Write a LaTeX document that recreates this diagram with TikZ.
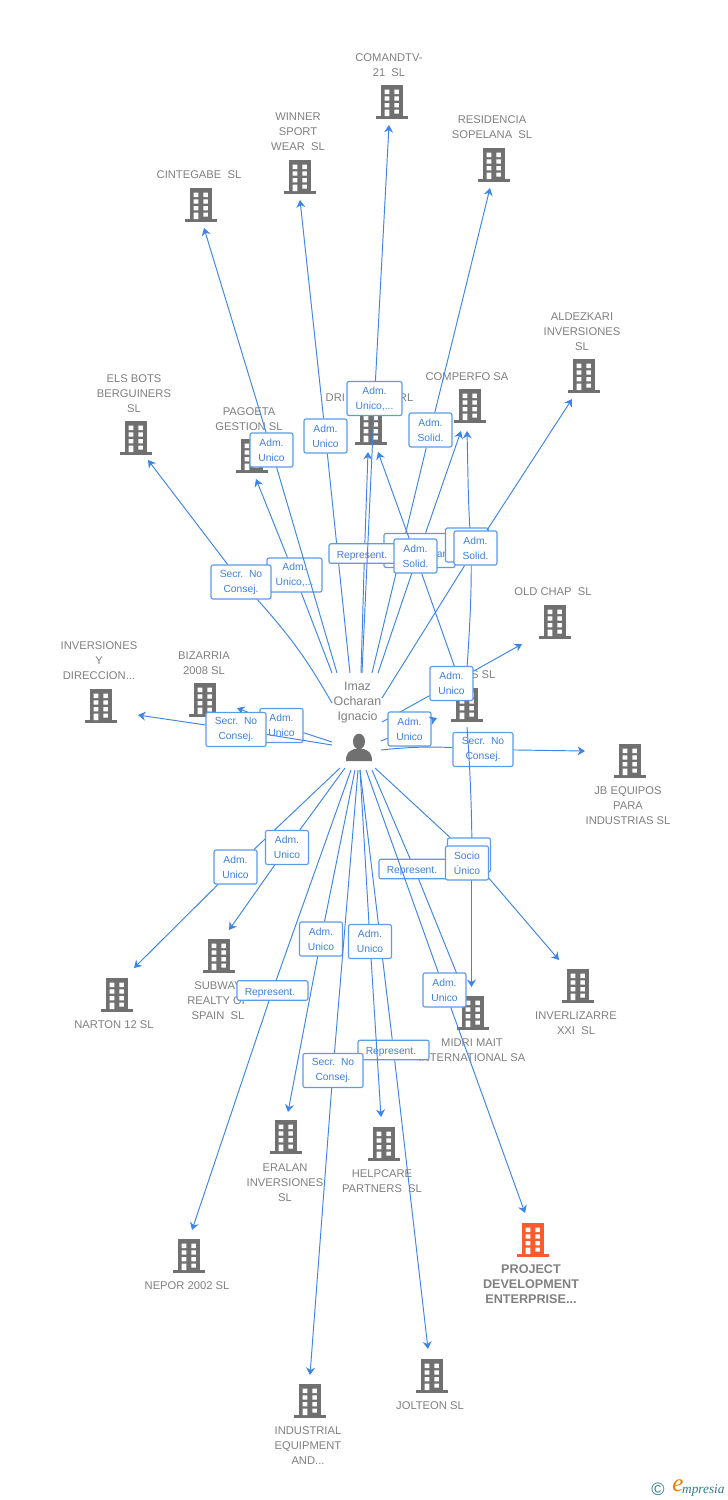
\documentclass[tikz,border=0pt]{standalone}
\usepackage{fontspec}
\setmainfont{Liberation Sans}
\newfontfamily\logoserif{Liberation Serif}
\usetikzlibrary{arrows.meta}
\definecolor{lnkc}{HTML}{3D85E6}
\definecolor{boxc}{HTML}{5C9BEA}
\definecolor{boxt}{HTML}{3F80DE}
\definecolor{txtc}{HTML}{808080}
\definecolor{icoc}{HTML}{707070}
\definecolor{hotc}{HTML}{FF5A2D}
\definecolor{tealc}{HTML}{2E7D8C}
\definecolor{orgc}{HTML}{F57C00}
\tikzset{
 lnk/.style={draw=lnkc,line width=0.95pt},
 tipped/.style={-{Stealth[length=7.5pt,width=9pt,inset=2.5pt]}},
 lab/.style={draw=boxc,line width=1.15pt,fill=white,rounded corners=2pt,inner sep=0pt,align=center,text=boxt,font=\fontsize{10.3}{15}\selectfont,minimum width=43pt,minimum height=34pt},
 labw/.style={lab,minimum width=55pt},
 labs/.style={lab,minimum width=60pt},
 labr/.style={lab,minimum width=71pt,minimum height=19.5pt,text height=9pt,text depth=0pt,execute at end node={\hspace{5pt}}},
 cname/.style={inner sep=0pt,align=center,text=txtc,font=\fontsize{11.2}{15}\selectfont,yshift=-0.8pt},
 bldbox/.style={minimum width=31.5pt,minimum height=34pt,inner sep=0pt},
}
% name, x, y, colour
\newcommand{\company}[4]{%
 \node[bldbox] (#1) at (#2,#3) {};
 \begin{scope}[shift={(#2-15.75,#3-17)}]
  \fill[#4] (4.7,0) rectangle (26.7,32);
  \fill[#4] (0,31) rectangle (31.5,34);
  \fill[white] (8.3,4.7) rectangle (13,9) (18,4.7) rectangle (22.7,9)
    (8.3,11.3) rectangle (13,15.7) (18,11.3) rectangle (22.7,15.7)
    (8.3,18) rectangle (13,22.3) (18,18) rectangle (22.7,22.3)
    (8.3,24.5) rectangle (13,31) (18,24.5) rectangle (22.7,28.5);
 \end{scope}
}
\newcommand{\Adm}{Adm.\hspace{4.5pt}\\}
% [first-segment options], id, start, box style, box pos, text, tip
\newcommand{\edgevia}[7][]{%
 \coordinate (s#2) at (#3);
 \coordinate (t#2) at (#7);
 \node[#4] (lb#2) at (#5) {#6};
 \draw[lnk] (s#2) to[#1] (lb#2);
 \draw[lnk,tipped] (lb#2) -- (t#2);
}
\begin{document}
\begin{tikzpicture}[x=1pt,y=-1pt]
\useasboundingbox (0,0) rectangle (728,1500);
\fill[white] (0,0) rectangle (728,1500);
% companies
\company{bComan}{392}{102}{icoc}
\company{bWinn}{300}{177}{icoc}
\company{bResi}{494}{165}{icoc}
\company{bCint}{201}{205}{icoc}
\company{bAldz}{584}{376}{icoc}
\company{bEls}{136}{438}{icoc}
\company{bPago}{252}{456}{icoc}
\company{bDri}{371}{428}{icoc}
\company{bComp}{470}{406}{icoc}
\company{bOld}{555}{622}{icoc}
\company{bInv}{101}{706}{icoc}
\company{bBiz}{205}{700}{icoc}
\company{bMid}{467}{705}{icoc}
\company{bJb}{630}{761}{icoc}
\company{bSub}{219}{956}{icoc}
\company{bNar}{117}{995}{icoc}
\company{bInz}{578}{986}{icoc}
\company{bMdr}{473}{1013}{icoc}
\company{bEra}{286}{1137}{icoc}
\company{bHel}{384}{1144}{icoc}
\company{bNep}{189}{1256}{icoc}
\company{bPro}{533}{1240}{hotc}
\company{bJol}{432}{1376}{icoc}
\company{bInd}{310}{1401}{icoc}
% company names
\node[cname] (nComan) at (389,64.5) {COMANDTV-\\21\ \ SL};
\node[cname] (nWinn) at (298,131) {WINNER\\SPORT\\WEAR\ \ SL};
\node[cname] (nResi) at (492,126.5) {RESIDENCIA\\SOPELANA\ \ SL};
\node[cname] (nCint) at (199,174) {CINTEGABE\ \ SL};
\node[cname] (nAldz) at (582,331) {ALDEZKARI\\INVERSIONES\\SL};
\node[cname] (nEls) at (134,393) {ELS BOTS\\BERGUINERS\\SL};
\node[cname] (nPago) at (249,418.5) {PAGOETA\\GESTION SL};
\node[cname] (nDri) at (369.5,397) {DRI\hspace{54pt}RL};
\node[cname] (nComp) at (467,376) {COMPERFO SA};
\node[cname] (nOld) at (553,591) {OLD CHAP\ \ SL};
\node[cname] (nInv) at (99,660) {INVERSIONES\\Y\\DIRECCION...};
\node[cname] (nBiz) at (204,662) {BIZARRIA\\2008 SL};
\node[cname,anchor=east] (nMid) at (495.5,674) {S SL};
\node[cname] (nJb) at (628,805) {JB EQUIPOS\\PARA\\INDUSTRIAS SL};
\node[cname] (nSub) at (218,1000) {SUBWAY\\REALTY OF\\SPAIN\ \ SL};
\node[cname] (nNar) at (114,1024) {NARTON 12 SL};
\node[cname] (nInz) at (576,1022.5) {INVERLIZARRE\\XXI\ \ SL};
\node[cname] (nMdr) at (472,1049.5) {MIDRI MAIT\\INTERNATIONAL SA};
\node[cname] (nEra) at (285,1182) {ERALAN\\INVERSIONES\\SL};
\node[cname] (nHel) at (382,1180.5) {HELPCARE\\PARTNERS\ \ SL};
\node[cname] (nNep) at (187,1285) {NEPOR 2002 SL};
\node[cname,font=\fontsize{12.6}{15}\selectfont\bfseries] (nPro) at (531,1283) {PROJECT\\DEVELOPMENT\\ENTERPRISE...};
\node[cname] (nJol) at (430,1405) {JOLTEON SL};
\node[cname] (nInd) at (308,1445) {INDUSTRIAL\\EQUIPMENT\\AND...};
% person
\node[cname,font=\fontsize{12.4}{15}\selectfont] (person) at (357.5,701.5) {Imaz\\Ocharan\\Ignacio};
\fill[icoc] (359,741.5) ellipse (6pt and 7.8pt);
\fill[icoc] (346,761) .. controls (346,752) and (350,751) .. (354,749) -- (364,749) .. controls (368,751) and (372,752) .. (372,761) -- cycle;
% links upward
\edgevia{aa}{332,673}{labw}{294.5,575}{\Adm Unico,...}{256,479}
\edgevia[bend right=6]{ab}{332,703}{labs}{241,582}{Secr.\ \ No\\Consej.}{148,460}
\edgevia{ac}{337,673}{lab}{271.5,450}{\Adm Unico}{204,228}
\edgevia{ad}{350,673}{lab}{325.5,436}{\Adm Unico}{300,200}
\edgevia{ae}{372,673}{lab}{430.5,430}{\Adm Solid.}{490,188}
\edgevia{af}{378,673}{lab,minimum width=71pt}{419.5,550.5}{~\\\hspace{46pt}an}{461,431}
\edgevia{ag}{361,673}{labr}{364.5,553.5}{Represent.}{368,452}
\edgevia{ah}{362,673}{labw}{374.5,398.5}{\Adm Unico,...}{389,125}
\edgevia{ai}{455,668}{lab}{415.5,556}{\Adm Solid.}{378,452}
% curved link past the COMPERFO label
\coordinate (saj) at (467,668);
\coordinate (taj) at (467,431);
\draw[lnk,tipped] (saj) .. controls (470,625) and (473,570) .. (470,530) .. controls (468,500) and (468,470) .. (taj);
\node[lab] (lbaj) at (467,545) {};
\edgevia{ak}{382,698}{lab}{475.5,548}{\Adm Solid.}{572,399}
% links sideways
\edgevia{ba}{382,722}{lab}{451.5,683.5}{\Adm Unico}{522,644}
\edgevia{bb}{381,741}{lab}{409.5,729}{\Adm Unico}{437,718}
\edgevia[bend left=4]{bc}{381,750}{labs}{483,749.5}{Secr.\ \ No\\Consej.}{585,751}
\edgevia{bd}{332,742}{lab}{281.5,725.5}{\Adm Unico}{237,708}
\edgevia{be}{332,745}{labs}{236,729.5}{Secr.\ \ No\\Consej.}{138,715}
% links downward
\edgevia{ca}{340,768}{lab}{235.5,867}{\Adm Unico}{134,968}
\edgevia{cb}{345,768}{lab}{287,847.5}{\Adm Unico}{229,930}
\edgevia{cc}{351,770}{labr}{272.5,990.5}{Represent.}{192,1230}
\edgevia{cd}{355,770}{lab}{321,939}{\Adm Unico}{288,1112}
\edgevia{ce}{360,770}{labr}{393.5,1050}{Represent.}{428,1349}
\edgevia{cf}{360,770}{lab}{370,941.5}{\Adm Unico}{381,1117}
\edgevia{cg}{358,770}{labs}{333,1070.5}{Secr.\ \ No\\Consej.}{310,1375}
\edgevia{ch}{372,770}{labr}{414.5,869}{Represent.}{463,989}
\edgevia{ci}{366,770}{lab}{444.5,990}{\Adm Unico}{525,1213}
% curved link down to MIDRI
\coordinate (sck) at (467,727);
\coordinate (tck) at (471.5,987);
\draw[lnk,tipped] (sck) .. controls (470,765) and (473,830) .. (471.5,880) -- (tck);
\edgevia{cj}{375,768}{lab}{469,855}{}{559,960}
\node[lab] (lbck) at (467,863) {Socio\\Único};
% logo
\node[inner sep=0pt,text=tealc,font=\fontsize{18}{18}\selectfont] (logoc) at (658,1489) {©};
\node[inner sep=0pt,text=orgc,font=\fontsize{25}{25}\selectfont\logoserif\itshape] (logoe) at (678,1486) {e};
\node[inner sep=0pt,anchor=west,text=tealc,font=\fontsize{13.3}{15}\selectfont\logoserif\itshape] (logot) at (682,1490) {mpresia};
\end{tikzpicture}
\end{document}
